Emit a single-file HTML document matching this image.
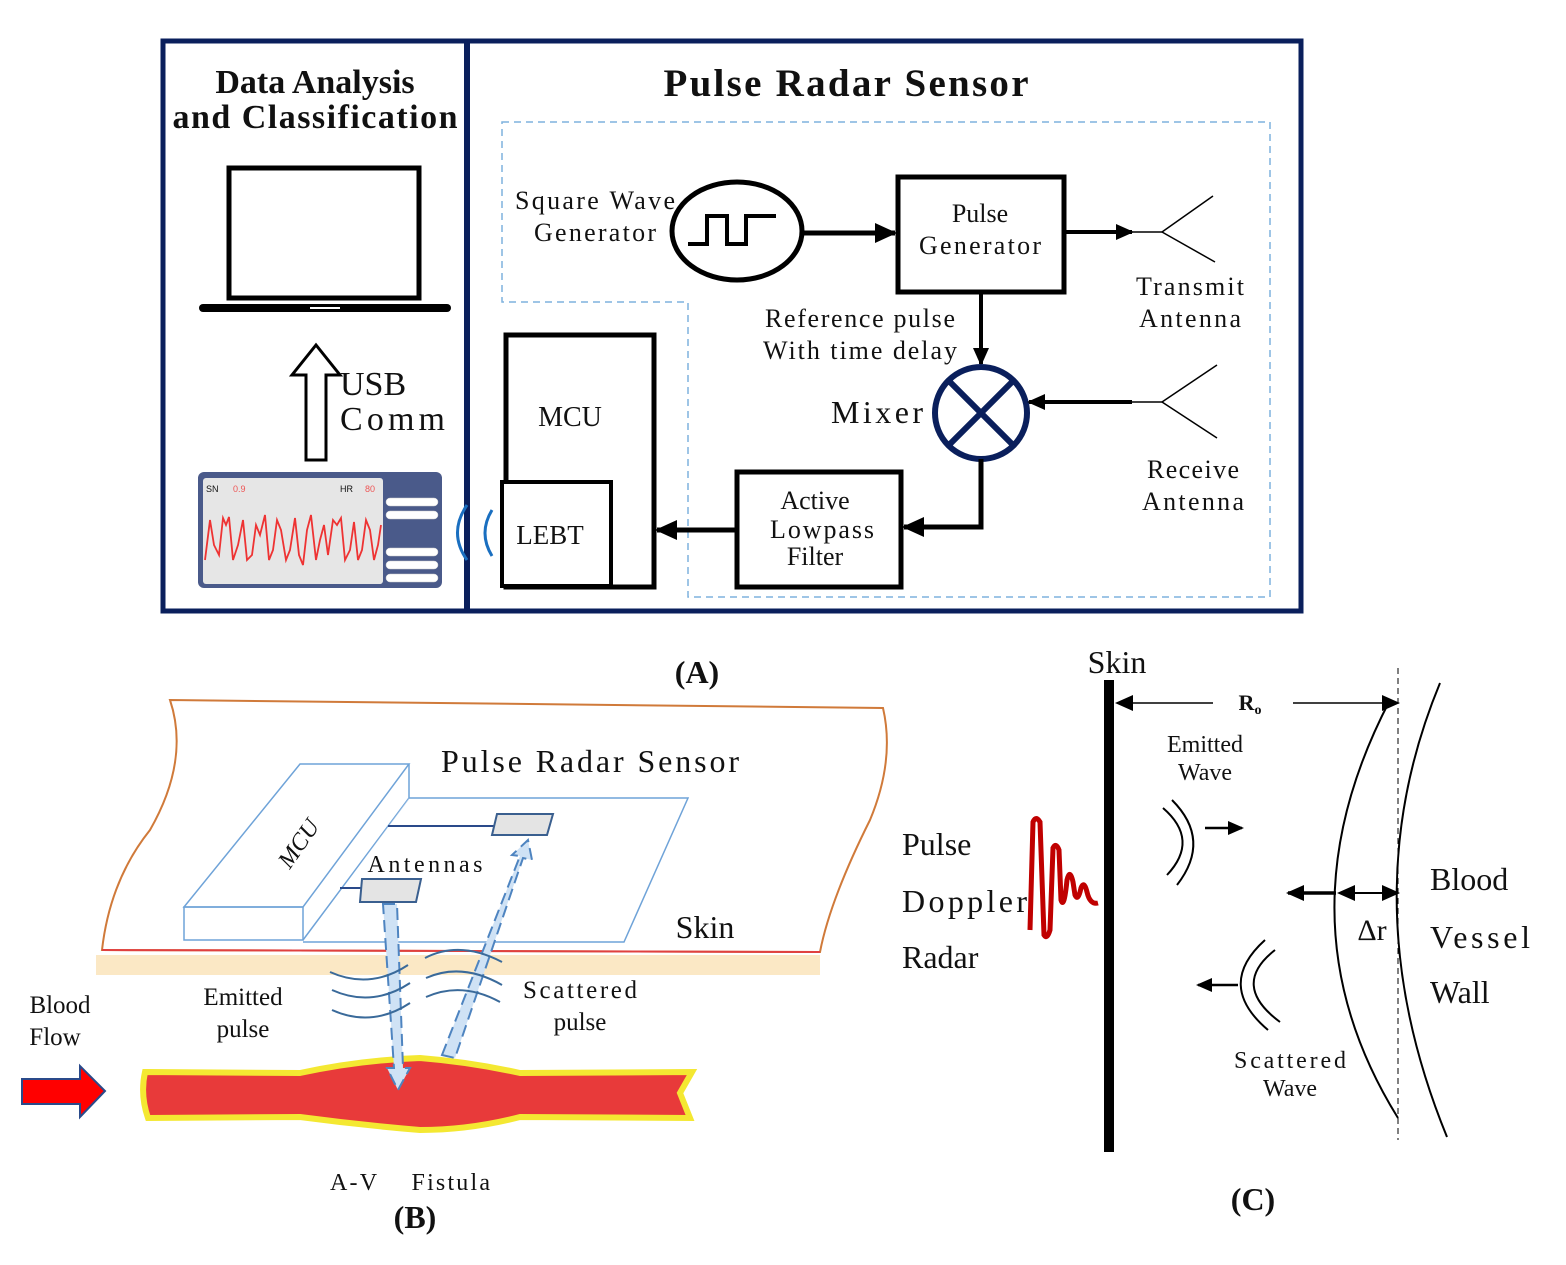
<!DOCTYPE html>
<html><head><meta charset="utf-8"><style>
html,body{margin:0;padding:0;background:#fff}
svg{display:block}
text{font-family:"Liberation Serif",serif;fill:#111}
</style></head><body>
<svg width="1566" height="1265" viewBox="0 0 1566 1265" xmlns="http://www.w3.org/2000/svg">
<defs>
<marker id="ah" markerWidth="16" markerHeight="14" refX="14" refY="7" orient="auto-start-reverse" markerUnits="userSpaceOnUse"><path d="M0,0 L16,7 L0,14z" fill="#000"/></marker>
<marker id="ahb" markerWidth="22" markerHeight="20" refX="20" refY="10" orient="auto" markerUnits="userSpaceOnUse"><path d="M0,0 L22,10 L0,20z" fill="#000"/></marker>
<marker id="ahs" markerWidth="18" markerHeight="16" refX="16" refY="8" orient="auto-start-reverse" markerUnits="userSpaceOnUse"><path d="M0,0 L18,8 L0,16z" fill="#000"/></marker>
</defs>

<!-- PANEL A -->
<rect x="163" y="41" width="1138" height="570" fill="none" stroke="#0a1f5c" stroke-width="5"/>
<line x1="467" y1="41" x2="467" y2="611" stroke="#0a1f5c" stroke-width="6"/>
<text x="315" y="93" font-size="34" font-weight="bold" text-anchor="middle">Data Analysis</text>
<text x="315" y="128" font-size="34" font-weight="bold" text-anchor="middle" textLength="285">and Classification</text>
<text x="846" y="96" font-size="39" font-weight="bold" text-anchor="middle" textLength="365">Pulse Radar Sensor</text>
<path d="M502,122 L1270,122 L1270,597 L688,597 L688,302 L502,302 Z" fill="none" stroke="#7fb2de" stroke-width="1.5" stroke-dasharray="7,5"/>

<!-- laptop -->
<rect x="229" y="168" width="190" height="130" fill="none" stroke="#000" stroke-width="5"/>
<line x1="203" y1="308" x2="447" y2="308" stroke="#000" stroke-width="8" stroke-linecap="round"/>
<line x1="310" y1="308" x2="340" y2="308" stroke="#fff" stroke-width="2"/>
<!-- USB arrow -->
<path d="M306,460 L306,375 L292,375 L316,345 L340,375 L326,375 L326,460 Z" fill="#fff" stroke="#000" stroke-width="3"/>
<text x="340" y="395" font-size="34">USB</text>
<text x="340" y="430" font-size="34" textLength="105">Comm</text>
<!-- phone -->
<rect x="198" y="472" width="244" height="116" rx="6" fill="#4a5a8a"/>
<rect x="203" y="478" width="180" height="106" rx="3" fill="#e6e6e6"/>
<text x="206" y="492" font-size="9" style="font-family:'Liberation Sans',sans-serif" fill="#555">SN</text>
<text x="233" y="492" font-size="9" style="font-family:'Liberation Sans',sans-serif;fill:#e55">0.9</text>
<text x="340" y="492" font-size="9" style="font-family:'Liberation Sans',sans-serif" fill="#555">HR</text>
<text x="365" y="492" font-size="9" style="font-family:'Liberation Sans',sans-serif;fill:#e55">80</text>
<polyline points="205,560 210,520 214,545 219,555 223,518 226,525 229,517 233,560 238,545 243,520 247,560 252,555 256,525 260,535 265,515 269,560 273,550 277,520 281,530 286,560 290,550 295,518 299,555 303,565 307,530 311,515 316,560 320,540 324,525 328,555 333,520 337,525 341,518 345,560 350,550 354,522 358,560 362,550 366,520 370,530 374,560 378,545 381,525" fill="none" stroke="#e33" stroke-width="1.8"/>
<g fill="#fff" stroke="#ccc" stroke-width="0.5">
<rect x="386" y="498" width="52" height="8" rx="4"/><rect x="386" y="511" width="52" height="8" rx="4"/>
<rect x="386" y="548" width="52" height="8" rx="4"/><rect x="386" y="561" width="52" height="8" rx="4"/><rect x="386" y="574" width="52" height="8" rx="4"/>
</g>
<path d="M467,505 Q448,533 467,560" fill="none" stroke="#1a6fc0" stroke-width="3"/>
<path d="M492,510 Q478,533 492,556" fill="none" stroke="#1a6fc0" stroke-width="3"/>

<!-- MCU/LEBT -->
<rect x="506" y="335" width="148" height="252" fill="none" stroke="#000" stroke-width="5"/>
<rect x="502" y="482" width="109" height="104" fill="#fff" stroke="#000" stroke-width="4"/>
<text x="570" y="426" font-size="28" text-anchor="middle">MCU</text>
<text x="550" y="544" font-size="27" text-anchor="middle">LEBT</text>

<!-- square wave gen -->
<text x="595" y="209" font-size="26" text-anchor="middle" textLength="160">Square Wave</text>
<text x="595" y="241" font-size="26" text-anchor="middle" textLength="122">Generator</text>
<ellipse cx="737" cy="231" rx="65" ry="49" fill="none" stroke="#000" stroke-width="5"/>
<polyline points="688,244 707,244 707,216 727,216 727,244 746,244 746,216 776,216" fill="none" stroke="#000" stroke-width="4"/>
<line x1="802" y1="233" x2="895" y2="233" stroke="#000" stroke-width="5" marker-end="url(#ahb)"/>
<rect x="898" y="177" width="166" height="115" fill="none" stroke="#000" stroke-width="5"/>
<text x="980" y="222" font-size="26" text-anchor="middle">Pulse</text>
<text x="980" y="254" font-size="26" text-anchor="middle" textLength="122">Generator</text>
<line x1="1064" y1="232" x2="1132" y2="232" stroke="#000" stroke-width="4" marker-end="url(#ahs)"/>
<line x1="1130" y1="232" x2="1162" y2="232" stroke="#000" stroke-width="1.5"/>
<line x1="1162" y1="232" x2="1213" y2="196" stroke="#000" stroke-width="1.5"/>
<line x1="1162" y1="232" x2="1215" y2="262" stroke="#000" stroke-width="1.5"/>
<text x="1190" y="295" font-size="26" text-anchor="middle" textLength="108">Transmit</text>
<text x="1190" y="327" font-size="26" text-anchor="middle" textLength="102">Antenna</text>

<line x1="981" y1="292" x2="981" y2="364" stroke="#000" stroke-width="4" marker-end="url(#ahs)"/>
<text x="860" y="327" font-size="26" text-anchor="middle" textLength="190">Reference pulse</text>
<text x="860" y="359" font-size="26" text-anchor="middle" textLength="194">With time delay</text>
<text x="877" y="423" font-size="32" text-anchor="middle" textLength="92">Mixer</text>
<circle cx="981" cy="413" r="46" fill="none" stroke="#0a1f5c" stroke-width="6"/>
<line x1="949" y1="381" x2="1013" y2="445" stroke="#0a1f5c" stroke-width="6"/>
<line x1="1013" y1="381" x2="949" y2="445" stroke="#0a1f5c" stroke-width="6"/>
<line x1="1132" y1="402" x2="1029" y2="402" stroke="#000" stroke-width="4" marker-end="url(#ahs)"/>
<line x1="1130" y1="402" x2="1162" y2="402" stroke="#000" stroke-width="1.5"/>
<line x1="1162" y1="402" x2="1217" y2="365" stroke="#000" stroke-width="1.5"/>
<line x1="1162" y1="402" x2="1217" y2="438" stroke="#000" stroke-width="1.5"/>
<text x="1193" y="478" font-size="26" text-anchor="middle" textLength="92">Receive</text>
<text x="1193" y="510" font-size="26" text-anchor="middle" textLength="102">Antenna</text>
<polyline points="981,459 981,527 904,527" fill="none" stroke="#000" stroke-width="5" marker-end="url(#ahb)"/>
<rect x="737" y="472" width="164" height="115" fill="none" stroke="#000" stroke-width="5"/>
<text x="815" y="509" font-size="26" text-anchor="middle">Active</text>
<text x="822" y="538" font-size="26" text-anchor="middle" textLength="104">Lowpass</text>
<text x="815" y="565" font-size="26" text-anchor="middle">Filter</text>
<line x1="737" y1="530" x2="657" y2="530" stroke="#000" stroke-width="5" marker-end="url(#ahb)"/>
<text x="697" y="683" font-size="32" font-weight="bold" text-anchor="middle">(A)</text>

<!-- PANEL B -->
<path d="M170,700 L883,708 Q895,760 870,820 Q830,900 820,952 L102,950 Q110,880 150,830 Q190,760 170,700 Z" fill="none" stroke="#d07a3a" stroke-width="2"/>
<line x1="102" y1="950" x2="820" y2="952" stroke="#e04040" stroke-width="2"/>
<rect x="96" y="955" width="724" height="20" fill="#fbe8c5"/>
<text x="590" y="772" font-size="32" text-anchor="middle" textLength="298">Pulse Radar Sensor</text>
<g fill="none" stroke="#6fa3d8" stroke-width="1.5">
<path d="M184,907 L300,764 L409,764 L303,907 Z"/>
<rect x="184" y="907" width="119" height="33"/>
<path d="M303,940 L409,798 L409,764"/>
<path d="M409,798 L688,798 L624,942 L303,942" fill="#fff" fill-opacity="0.4"/>
</g>
<text transform="translate(305,848) rotate(-55)" font-size="24" font-style="italic" text-anchor="middle">MCU</text>
<line x1="388" y1="826" x2="497" y2="826" stroke="#2a4a8a" stroke-width="2"/>
<line x1="340" y1="888" x2="362" y2="888" stroke="#2a4a8a" stroke-width="2"/>
<path d="M497,814 L553,814 L547,835 L492,835 Z" fill="#e4e4e4" stroke="#3a5f8f" stroke-width="2"/>
<path d="M362,879 L421,879 L416,902 L360,902 Z" fill="#e4e4e4" stroke="#3a5f8f" stroke-width="2"/>
<text x="425" y="872" font-size="24" text-anchor="middle" textLength="115">Antennas</text>
<text x="705" y="938" font-size="32" text-anchor="middle">Skin</text>
<!-- vessel -->
<path d="M145,1072 L300,1073 Q360,1060 420,1058 Q470,1062 520,1073 L692,1072 L680,1093 L690,1118 L520,1117 Q470,1130 420,1130 Q360,1125 300,1117 L148,1118 Q140,1095 145,1072 Z" fill="#e83a3a" stroke="#f4e832" stroke-width="6"/>
<!-- arrows -->
<path d="M383,904 L397,904 L403,1068 L410,1068 L398,1090 L387,1068 L394,1068 Z" fill="#cfe2f5" stroke="#4e84c0" stroke-width="2" stroke-dasharray="12,6"/>
<path d="M442,1055 L455,1058 L523,858 L532,860 L528,840 L512,855 L520,856 Z" fill="#cfe2f5" stroke="#4e84c0" stroke-width="2" stroke-dasharray="12,6"/>
<g fill="none" stroke="#3a6a9a" stroke-width="2">
<path d="M330,972 Q370,990 408,965"/><path d="M332,990 Q372,1008 410,983"/><path d="M332,1010 Q372,1028 410,1003"/>
<path d="M425,958 Q460,940 502,962"/><path d="M426,978 Q462,962 502,985"/><path d="M426,997 Q462,981 500,1002"/>
</g>
<text x="243" y="1005" font-size="25" text-anchor="middle">Emitted</text>
<text x="243" y="1037" font-size="25" text-anchor="middle">pulse</text>
<text x="580" y="998" font-size="25" text-anchor="middle" textLength="114">Scattered</text>
<text x="580" y="1030" font-size="25" text-anchor="middle">pulse</text>
<text x="60" y="1013" font-size="25" text-anchor="middle">Blood</text>
<text x="55" y="1045" font-size="25" text-anchor="middle">Flow</text>
<path d="M22,1079 L80,1079 L80,1066 L105,1091 L80,1117 L80,1104 L22,1104 Z" fill="#f00" stroke="#2a4a8a" stroke-width="2"/>
<text x="410" y="1190" font-size="24" text-anchor="middle" textLength="160" xml:space="preserve">A-V    Fistula</text>
<text x="415" y="1228" font-size="32" font-weight="bold" text-anchor="middle">(B)</text>

<!-- PANEL C -->
<rect x="1104" y="680" width="10" height="472" fill="#000"/>
<text x="1117" y="673" font-size="32" text-anchor="middle">Skin</text>
<line x1="1213" y1="703" x2="1117" y2="703" stroke="#000" stroke-width="1.5" marker-end="url(#ahs)"/>
<line x1="1293" y1="703" x2="1398" y2="703" stroke="#000" stroke-width="1.5" marker-end="url(#ahs)"/>
<text x="1250" y="710" font-size="22" font-weight="bold" text-anchor="middle">R<tspan font-size="14" dy="4">o</tspan></text>
<line x1="1398" y1="668" x2="1398" y2="1140" stroke="#000" stroke-width="1" stroke-dasharray="6,4"/>
<path d="M1390,700 Q1275,920 1398,1118" fill="none" stroke="#000" stroke-width="2"/>
<path d="M1440,683 Q1350,900 1447,1137" fill="none" stroke="#000" stroke-width="2"/>
<path d="M1030,930 L1033,822 Q1036,815 1040,822 L1044,935 Q1047,940 1050,930 L1053,848 Q1056,842 1059,850 L1061,900 Q1064,910 1067,880 Q1070,868 1073,882 L1075,895 Q1078,902 1081,888 Q1084,880 1087,892 Q1090,905 1098,903" fill="none" stroke="#c00000" stroke-width="5"/>
<text x="902" y="855" font-size="32">Pulse</text>
<text x="902" y="912" font-size="32" textLength="125">Doppler</text>
<text x="902" y="968" font-size="32">Radar</text>
<path d="M1163,808 Q1200,840 1167,875" fill="none" stroke="#000" stroke-width="2"/>
<path d="M1172,800 Q1212,840 1177,885" fill="none" stroke="#000" stroke-width="2"/>
<line x1="1205" y1="828" x2="1242" y2="828" stroke="#000" stroke-width="2.5" marker-end="url(#ah)"/>
<text x="1205" y="752" font-size="24" text-anchor="middle">Emitted</text>
<text x="1205" y="780" font-size="24" text-anchor="middle">Wave</text>
<line x1="1336" y1="893" x2="1288" y2="893" stroke="#000" stroke-width="3.5" marker-end="url(#ahs)"/>
<line x1="1339" y1="893" x2="1398" y2="893" stroke="#000" stroke-width="2" marker-start="url(#ahs)" marker-end="url(#ahs)"/>
<text x="1372" y="940" font-size="30" text-anchor="middle">Δr</text>
<path d="M1275,950 Q1230,985 1280,1022" fill="none" stroke="#000" stroke-width="2"/>
<path d="M1265,940 Q1215,985 1268,1030" fill="none" stroke="#000" stroke-width="2"/>
<line x1="1238" y1="985" x2="1198" y2="985" stroke="#000" stroke-width="2.5" marker-end="url(#ah)"/>
<text x="1290" y="1068" font-size="24" text-anchor="middle" textLength="112">Scattered</text>
<text x="1290" y="1096" font-size="24" text-anchor="middle">Wave</text>
<text x="1430" y="890" font-size="32">Blood</text>
<text x="1430" y="948" font-size="32" textLength="100">Vessel</text>
<text x="1430" y="1003" font-size="32">Wall</text>
<text x="1253" y="1210" font-size="32" font-weight="bold" text-anchor="middle">(C)</text>
</svg>
</body></html>
